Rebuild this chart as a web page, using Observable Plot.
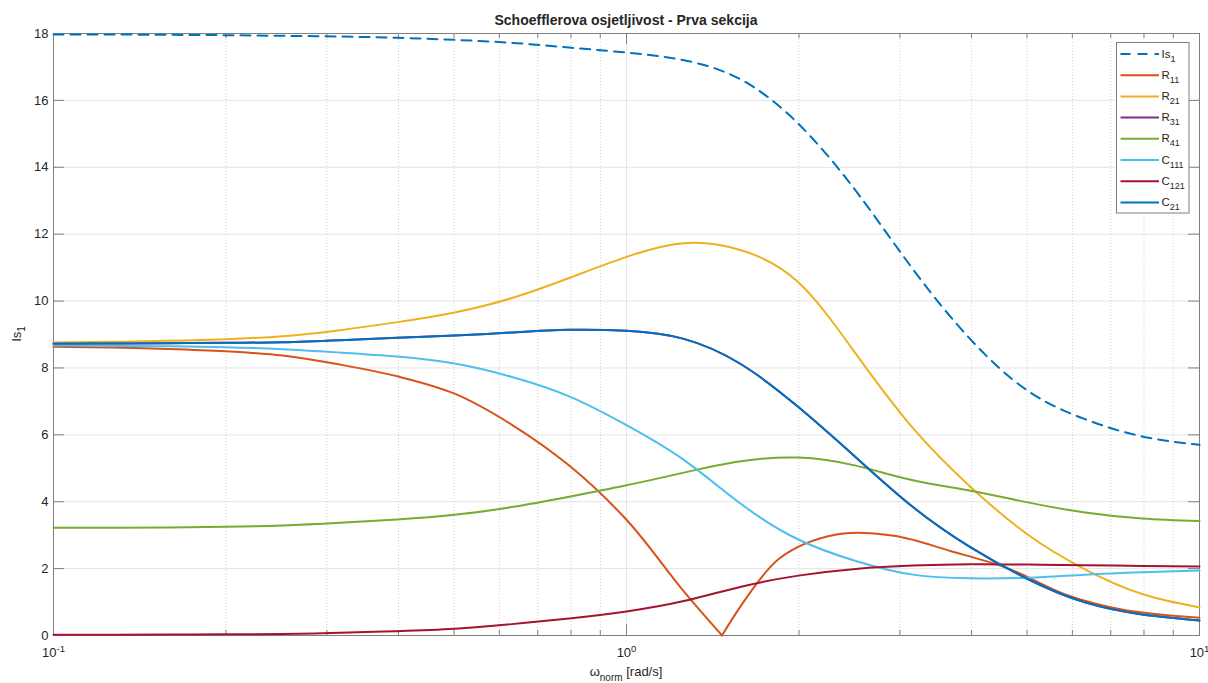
<!DOCTYPE html>
<html><head><meta charset="utf-8">
<script src="https://cdn.jsdelivr.net/npm/d3@7"></script>
<script src="https://cdn.jsdelivr.net/npm/@observablehq/plot@0.6"></script>
<style>
html,body{margin:0;padding:0;background:#fff;}
#chart{position:relative;width:1208px;height:683px;}
</style></head><body><div id="chart"></div>
<script>
// ---- data ----
const omega = [0.1, 0.1259, 0.1585, 0.1995, 0.2512, 0.3162, 0.3981, 0.5012, 0.631, 0.7943, 1, 1.259, 1.585, 1.995, 2.512, 3.162, 3.981, 5.012, 6.31, 7.943, 10];
const Is1  = [17.97, 17.97, 17.96, 17.95, 17.93, 17.91, 17.87, 17.81, 17.72, 17.58, 17.43, 17.2, 16.62, 15.3, 13.3, 10.95, 8.86, 7.32, 6.47, 5.95, 5.7];
const R21  = [8.76, 8.78, 8.81, 8.86, 8.95, 9.13, 9.37, 9.66, 10.09, 10.69, 11.32, 11.73, 11.52, 10.56, 8.43, 6.2, 4.45, 3.02, 1.98, 1.24, 0.84];
const R31  = [8.72, 8.73, 8.74, 8.75, 8.77, 8.83, 8.9, 8.97, 9.06, 9.14, 9.11, 8.87, 8.11, 6.83, 5.33, 3.84, 2.64, 1.69, 0.99, 0.63, 0.45];
const R41  = [3.22, 3.22, 3.23, 3.25, 3.29, 3.37, 3.47, 3.61, 3.84, 4.15, 4.49, 4.87, 5.21, 5.32, 5.08, 4.64, 4.33, 3.98, 3.68, 3.5, 3.42];
const C111 = [8.67, 8.66, 8.65, 8.62, 8.56, 8.46, 8.34, 8.13, 7.73, 7.15, 6.29, 5.25, 3.93, 2.87, 2.23, 1.82, 1.71, 1.73, 1.82, 1.89, 1.94];
const C121 = [0.02, 0.025, 0.03, 0.035, 0.045, 0.08, 0.13, 0.2, 0.34, 0.51, 0.72, 1.03, 1.46, 1.79, 1.99, 2.09, 2.13, 2.12, 2.1, 2.08, 2.06];
const C21  = [8.72, 8.73, 8.74, 8.75, 8.77, 8.83, 8.9, 8.97, 9.06, 9.14, 9.11, 8.87, 8.11, 6.83, 5.33, 3.84, 2.64, 1.69, 0.99, 0.63, 0.45];
// R11 falls to zero at a sharp notch, so it has its own frequency samples
const omegaR11 = [0.1, 0.1259, 0.1585, 0.1995, 0.2512, 0.3162, 0.3981, 0.5012, 0.631, 0.7943, 1, 1.259, 1.468, 1.848, 2.326, 2.928, 3.687, 4.642, 5.843, 7.356, 9.261, 10];
const R11      = [8.63, 8.61, 8.57, 8.5, 8.37, 8.1, 7.75, 7.23, 6.3, 5.08, 3.46, 1.32, 0, 2.3, 3.02, 2.98, 2.52, 2.0, 1.22, 0.77, 0.575, 0.53];

const seriesKeys = ["Is1", "R11", "R21", "R31", "R41", "C111", "C121", "C21"];
const seriesValues = [Is1, R11, R21, R31, R41, C111, C121, C21];
const seriesOmega = [omega, omegaR11, omega, omega, omega, omega, omega, omega];
const legendMain = ["Is", "R", "R", "R", "R", "C", "C", "C"];
const legendSub = ["1", "11", "21", "31", "41", "111", "121", "21"];
const colors = ["#0072BD", "#D95319", "#EDB120", "#7E2F8E", "#77AC30", "#4DBEEE", "#A2142F", "#0072BD"];
const dashed = ["Is1"];

const yTicks = [0, 2, 4, 6, 8, 10, 12, 14, 16, 18];
const xMajor = [0.1, 1, 10];
const xMinor = [0.2, 0.3, 0.4, 0.5, 0.6, 0.7, 0.8, 0.9, 2, 3, 4, 5, 6, 7, 8, 9];
const xExponents = ["-1", "0", "1"];
const titleText = "Schoefflerova osjetljivost - Prva sekcija";
const xLabelMain = "\u03C9";
const xLabelSub = "norm";
const xLabelRest = " [rad/s]";
const yLabelMain = "Is";
const yLabelSub = "1";

// ---- layout ----
const W = 1208, H = 683, mL = 53, mR = 9, mT = 33, mB = 48;
const innerW = W - mL - mR, innerH = H - mT - mB;
const axisColor = "#808080";
const gridColor = "#e4e4e4";
const textColor = "#262626";
const font = "'Liberation Sans', Arial, Helvetica, sans-serif";

// Build tidy rows (R11 split at its zero so the notch stays sharp)
const rows = [];
seriesKeys.forEach((key, si) => {
  const vals = seriesValues[si];
  const xs = seriesOmega[si];
  const vIdx = key === "R11" ? vals.indexOf(0) : -1;
  xs.forEach((w, i) => {
    if (vals[i] == null) return;
    if (vIdx >= 0) {
      if (i <= vIdx) rows.push({series: key, omega: w, value: vals[i], seg: "a"});
      if (i >= vIdx) rows.push({series: key, omega: w, value: vals[i], seg: "b"});
    } else {
      rows.push({series: key, omega: w, value: vals[i], seg: "a"});
    }
  });
});

const lineMarks = seriesKeys.map((key, si) => Plot.line(rows.filter(r => r.series === key), {
  x: "omega", y: "value", z: "seg",
  stroke: colors[si], strokeWidth: 2,
  curve: key === "R11" ? "catmull-rom" : "natural",
  strokeDasharray: dashed.includes(key) ? "10,7" : null
}));

const chart = Plot.plot({
  width: W, height: H,
  marginLeft: mL, marginRight: mR, marginTop: mT, marginBottom: mB,
  x: {type: "log", domain: [0.1, 10]},
  y: {domain: [0, 18]},
  style: {fontFamily: font, fontSize: "13px", color: textColor, background: "white", overflow: "visible"},
  marks: [
    Plot.gridY(yTicks, {stroke: gridColor, strokeOpacity: 1}),
    Plot.gridX(xMinor, {stroke: "#cfcfcf", strokeOpacity: 1, strokeDasharray: "1,2"}),
    Plot.gridX(xMajor, {stroke: gridColor, strokeOpacity: 1}),
    Plot.frame({stroke: axisColor}),
    Plot.tickX(xMajor, {x: d => d, insetTop: innerH - 11, stroke: axisColor}),
    Plot.tickX(xMajor, {x: d => d, insetBottom: innerH - 11, stroke: axisColor}),
    Plot.tickX(xMinor, {x: d => d, insetTop: innerH - 5, stroke: axisColor}),
    Plot.tickX(xMinor, {x: d => d, insetBottom: innerH - 5, stroke: axisColor}),
    Plot.tickY(yTicks, {y: d => d, insetRight: innerW - 11, stroke: axisColor}),
    Plot.tickY(yTicks, {y: d => d, insetLeft: innerW - 11, stroke: axisColor}),
    Plot.axisY(yTicks, {tickSize: 0, tickPadding: 5, label: null, fill: textColor}),
    Plot.axisX(xMajor, {tickSize: 0, tickPadding: 12, label: null, tickFormat: () => "10", fill: textColor}),
    ...lineMarks
  ]
});
document.getElementById("chart").appendChild(chart);

const svg = d3.select(chart);

// superscript exponents on x tick labels
svg.selectAll('g[aria-label="x-axis tick label"] text').each(function(d, i) {
  d3.select(this).append("tspan")
    .attr("font-size", "9.5px")
    .attr("dy", "-5")
    .text(xExponents[i]);
});

// title
svg.append("text")
  .attr("x", mL + innerW / 2).attr("y", 25)
  .attr("text-anchor", "middle")
  .attr("font-weight", "bold").attr("font-size", "14px")
  .attr("fill", textColor)
  .text(titleText);

// x label
const xl = svg.append("text")
  .attr("x", mL + innerW / 2).attr("y", 675.5)
  .attr("text-anchor", "middle").attr("font-size", "13px").attr("fill", textColor);
xl.append("tspan").text(xLabelMain);
xl.append("tspan").attr("font-size", "10px").attr("dy", "5").text(xLabelSub);
xl.append("tspan").attr("dy", "-5").text(xLabelRest);

// y label
const yl = svg.append("text")
  .attr("transform", `translate(21,${mT + innerH / 2}) rotate(-90)`)
  .attr("text-anchor", "middle").attr("font-size", "13px").attr("fill", textColor);
yl.append("tspan").text(yLabelMain);
yl.append("tspan").attr("font-size", "10px").attr("dy", "4").text(yLabelSub);

// legend
const lg = svg.append("g").attr("font-size", "11.5px").attr("fill", textColor).attr("text-anchor", "start");
const lx0 = 1116.5, ly0 = 42.5, lw = 72.5, lh = 170.5;
lg.append("rect").attr("x", lx0).attr("y", ly0).attr("width", lw).attr("height", lh)
  .attr("fill", "white").attr("stroke", axisColor);
seriesKeys.forEach((key, i) => {
  const cy = 54 + i * 21.2;
  lg.append("line").attr("x1", 1120.5).attr("x2", 1159).attr("y1", cy).attr("y2", cy)
    .attr("stroke", colors[i]).attr("stroke-width", 2)
    .attr("stroke-dasharray", dashed.includes(key) ? "10,7" : null);
  const t = lg.append("text").attr("x", 1161.5).attr("y", cy + 3.5).attr("text-anchor", "start");
  t.append("tspan").text(legendMain[i]);
  t.append("tspan").attr("font-size", "9px").attr("dy", "4").text(legendSub[i]);
});
</script></body></html>
